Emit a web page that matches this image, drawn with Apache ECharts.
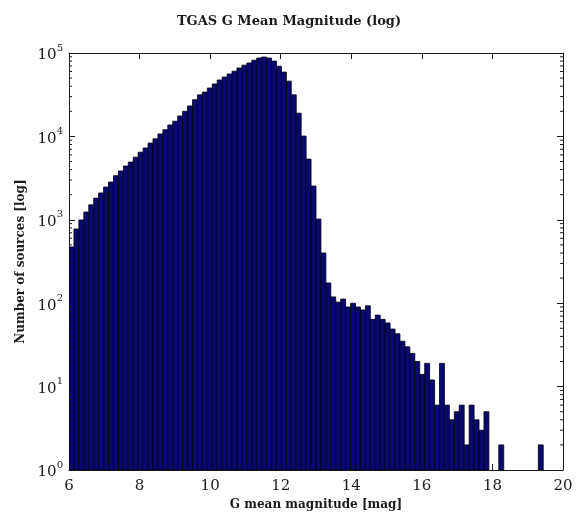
<!DOCTYPE html>
<html>
<head>
<meta charset="utf-8">
<script src="https://cdn.jsdelivr.net/npm/echarts@6/dist/echarts.min.js"></script>
<style>
  html, body { margin: 0; padding: 0; background: #fff; }
  #chart { width: 578px; height: 516px; }
</style>
</head>
<body>
<div id="chart"></div>
<script>
// Histogram of TGAS G mean magnitudes, fixed-width bins starting at binStart.
const binStart = 6.0;
const binWidth = 0.14;
const counts = [
  472, 776, 995, 1240, 1510, 1820, 2100, 2470, 2840, 3380,
  3850, 4420, 4920, 5640, 6470, 7260, 8330, 9340, 10700, 12000,
  13700, 15200, 17600, 20000, 23200, 27500, 31500, 34000, 38000, 42500,
  47500, 51500, 56000, 60500, 66000, 71500, 76000, 82000, 87000, 89500,
  87000, 80000, 69500, 59000, 46000, 31500, 19000, 10100, 5340, 2540,
  1020, 400, 175, 119, 103, 112, 90, 100, 90, 83,
  93, 64, 72, 64, 58, 49, 43, 35, 30, 25,
  20, 14, 19, 12, 6, 19, 6, 4, 5, 6,
  2, 6, 4, 3, 5, 1, 1, 2, 0, 1,
  0, 0, 0, 0, 0, 2
];

// Axis ranges and tick labels
const xMin = 6, xMax = 20, xStep = 2;
const yDecades = [0, 1, 2, 3, 4, 5];
const minorMultipliers = [2, 3, 4, 5, 6, 7, 8, 9];

const titleText = 'TGAS G Mean Magnitude (log)';
const xName = 'G mean magnitude [mag]';
const yName = 'Number of sources [log]';

// [left edge, right edge, count] per non-empty bin
const bins = [];
counts.forEach((c, i) => {
  if (c > 0) bins.push([binStart + i * binWidth, binStart + (i + 1) * binWidth, c]);
});

// Minor tick values on the log axis
const minorValues = [];
yDecades.slice(0, -1).forEach(d => {
  minorMultipliers.forEach(m => minorValues.push([m * Math.pow(10, d)]));
});

const serif = '"DejaVu Serif", "Liberation Serif", serif';
const ink = '#1a1a1a';

const chart = echarts.init(document.getElementById('chart'), null, { renderer: 'canvas' });

const xAxisBase = {
  type: 'value', min: xMin, max: xMax, interval: xStep,
  axisLine: { show: true, onZero: false, lineStyle: { color: ink, width: 1 } },
  axisTick: { show: true, inside: true, length: 6, lineStyle: { color: ink } },
  splitLine: { show: false }
};
const yAxisBase = {
  type: 'log', logBase: 10, min: 1, max: 100000,
  axisLine: { show: true, lineStyle: { color: ink, width: 1 } },
  axisTick: { show: true, inside: true, length: 6, lineStyle: { color: ink } },
  splitLine: { show: false }
};

chart.setOption({
  animation: false,
  backgroundColor: '#fff',
  title: {
    text: titleText, left: 'center', top: 10,
    textStyle: { fontFamily: serif, fontSize: 13, fontWeight: 'bold', color: ink }
  },
  grid: { left: 69, right: 15, top: 53, bottom: 46, containLabel: false },
  xAxis: [
    Object.assign({}, xAxisBase, {
      position: 'bottom',
      name: xName, nameLocation: 'middle', nameGap: 26,
      nameTextStyle: { fontFamily: serif, fontSize: 12, fontWeight: 'bold', color: ink },
      axisLabel: { show: true, margin: 9, fontFamily: serif, fontSize: 15, color: ink }
    }),
    Object.assign({}, xAxisBase, { position: 'top', axisLabel: { show: false } })
  ],
  yAxis: [
    Object.assign({}, yAxisBase, {
      position: 'left',
      name: yName, nameLocation: 'middle', nameGap: 33, nameRotate: 90,
      nameTextStyle: { fontFamily: serif, fontSize: 12, fontWeight: 'bold', color: ink },
      axisLabel: {
        show: true, margin: 6,
        formatter: v => '{b|10}{s|' + Math.round(Math.log10(v)) + '}',
        rich: {
          b: { fontFamily: serif, fontSize: 15, color: ink, verticalAlign: 'bottom', lineHeight: 20 },
          s: { fontFamily: serif, fontSize: 10, color: ink, verticalAlign: 'top', lineHeight: 20 }
        }
      }
    }),
    Object.assign({}, yAxisBase, { position: 'right', axisLabel: { show: false } })
  ],
  series: [
    {
      type: 'custom',
      name: 'counts',
      xAxisIndex: 0, yAxisIndex: 0,
      data: bins,
      clip: true,
      renderItem: (params, api) => {
        const x0 = api.value(0), x1 = api.value(1), c = api.value(2);
        const tl = api.coord([x0, c]);
        const br = api.coord([x1, 1]);
        const h = br[1] - tl[1];
        // a single count sits on the log floor: nothing to outline
        if (h < 0.5) return null;
        return {
          type: 'rect',
          shape: { x: tl[0], y: tl[1], width: br[0] - tl[0], height: h },
          style: { fill: '#08086e', stroke: '#000018', lineWidth: 0.8 }
        };
      }
    },
    {
      type: 'custom',
      name: 'minorTicks',
      xAxisIndex: 0, yAxisIndex: 0,
      data: minorValues,
      silent: true,
      z: 5,
      renderItem: (params, api) => {
        const v = api.value(0);
        const l = api.coord([xMin, v]);
        const r = api.coord([xMax, v]);
        const len = 3;
        return {
          type: 'group',
          children: [
            { type: 'line', shape: { x1: l[0], y1: l[1], x2: l[0] + len, y2: l[1] }, style: { stroke: ink, lineWidth: 1 } },
            { type: 'line', shape: { x1: r[0], y1: r[1], x2: r[0] - len, y2: r[1] }, style: { stroke: ink, lineWidth: 1 } }
          ]
        };
      }
    }
  ]
});
</script>
</body>
</html>
